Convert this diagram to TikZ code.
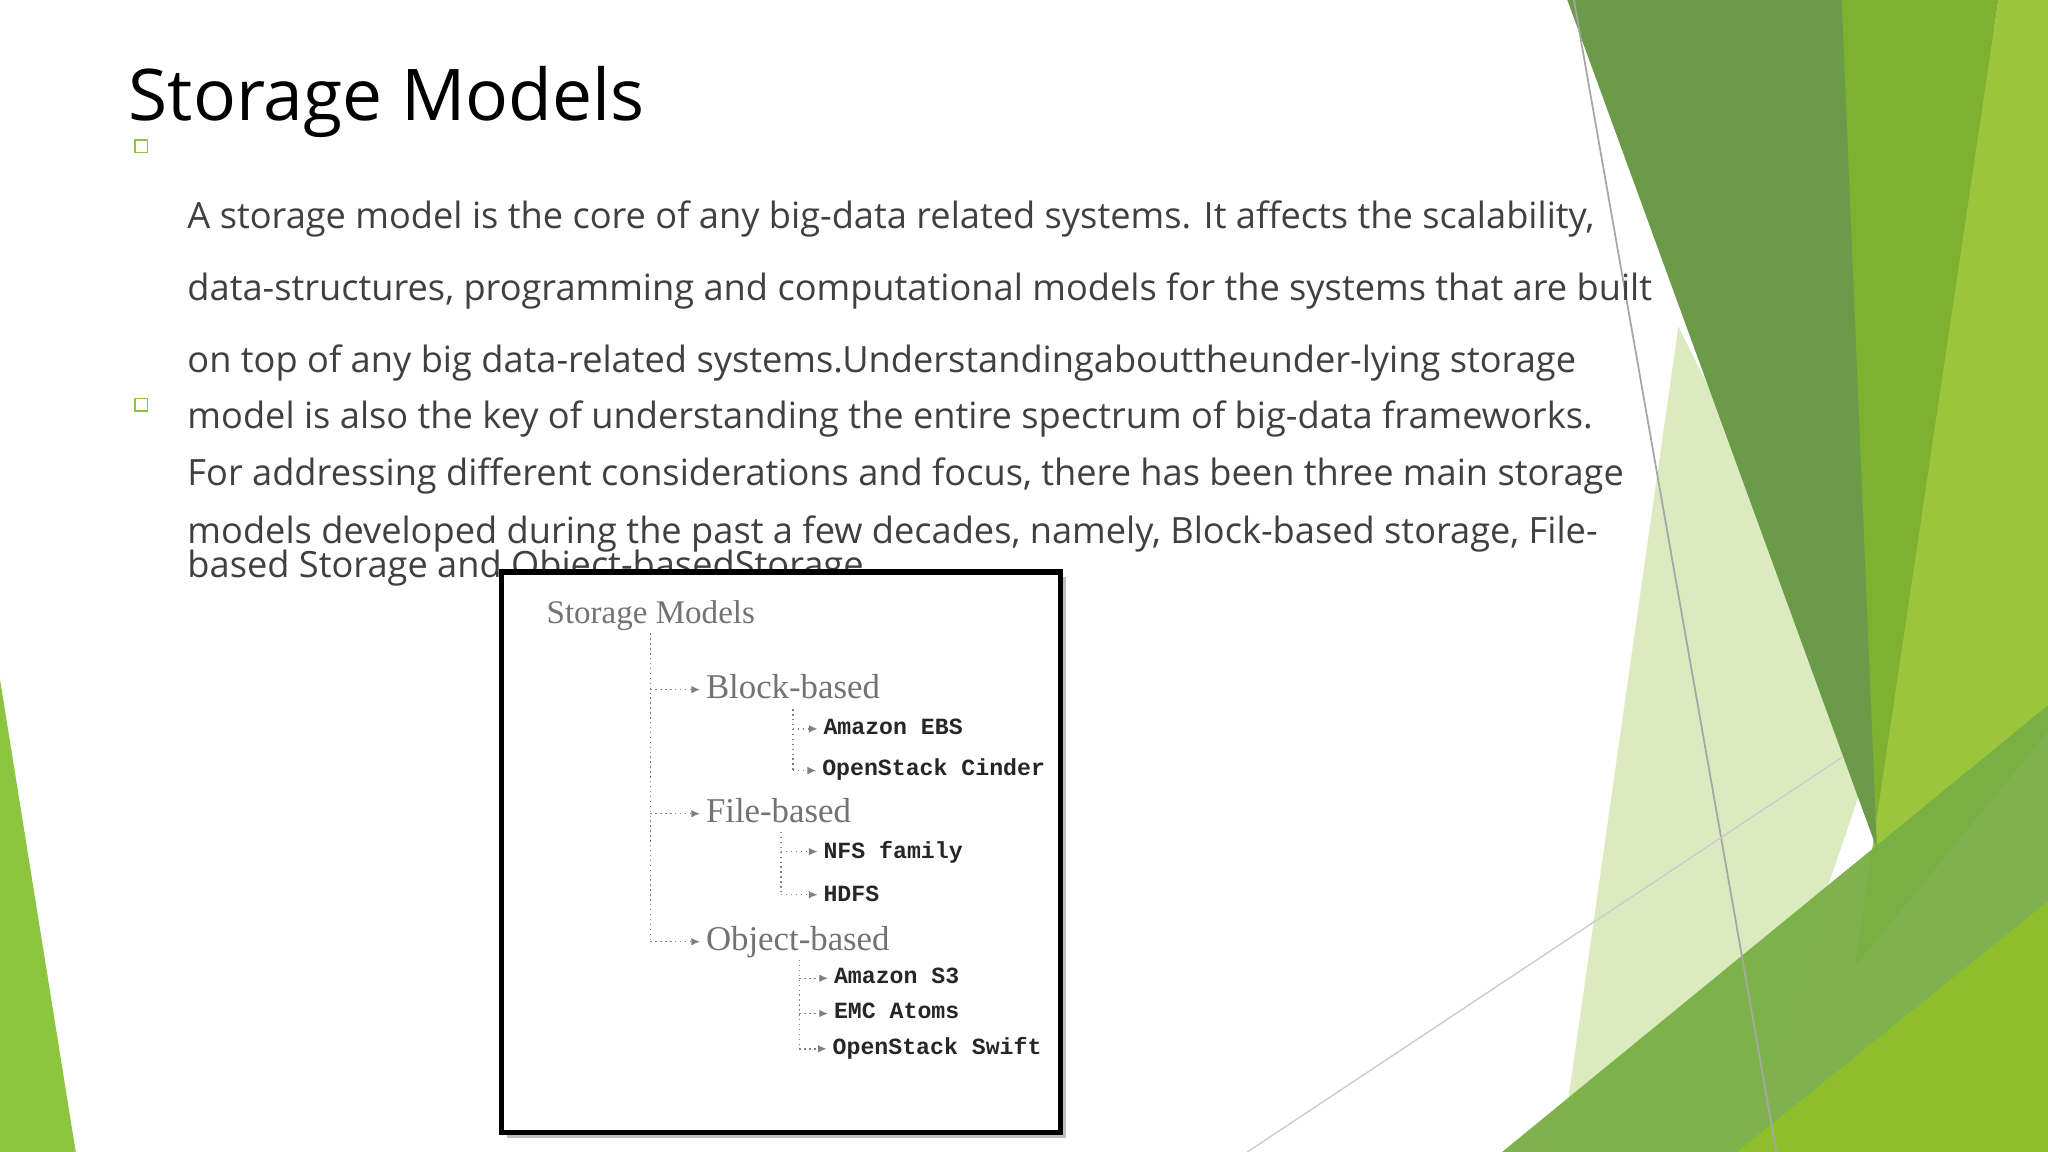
\documentclass[tikz,border=0pt]{standalone}
\usepackage{fontspec}
\setmainfont{Open Sans}
\newfontfamily\titlefont{Open Sans}
\newfontfamily\treeserif{Liberation Serif}
\newfontfamily\treemono{Liberation Mono}
\usetikzlibrary{arrows.meta}
\definecolor{gA}{HTML}{8CC63F}
\definecolor{gDark}{HTML}{6B9A48}
\definecolor{gMid}{HTML}{7FB030}
\definecolor{gBright}{HTML}{9BC53D}
\definecolor{gLow}{HTML}{78AE44}
\definecolor{gLow2}{HTML}{8FBE2C}
\definecolor{gPale}{HTML}{DCEAC0}
\definecolor{txt}{HTML}{404040}
\tikzset{
  body/.style={anchor=base west,inner sep=0,font=\fontsize{10.3pt}{12pt}\selectfont,text=txt},
  bul/.style={draw=gA,line width=0.5pt,minimum size=3.6pt,inner sep=0},
  cat/.style={anchor=base west,inner sep=0,font=\treeserif\fontsize{9.9pt}{11pt}\selectfont,text=black!55},
  leaf/.style={anchor=base west,inner sep=0,font=\treemono\bfseries\fontsize{6.6pt}{8pt}\selectfont,text=black!85},
  tline/.style={black!50,densely dotted,line width=0.4pt},
  tarr/.style={tline,shorten >=1.5pt,-{Latex[length=2.5pt,width=2.2pt]}}
}
\begin{document}
\begin{tikzpicture}[x=0.013061cm,y=-0.013061cm]
\useasboundingbox (0,0) rectangle (1568,882);
% decorations
\fill[gA] (0,520) -- (58,882) -- (0,882) -- cycle;
\fill[gPale] (1285,250) -- (1440,560) -- (1330,882) -- (1195,882) -- cycle;
\fill[gMid] (1405,0) -- (1530,0) -- (1437,650) -- cycle;
\fill[gBright] (1530,0) -- (1568,0) -- (1568,560) -- (1420,740) -- cycle;
\fill[gDark] (1200,0) -- (1410,0) -- (1437,650) -- cycle;
\fill[gLow,opacity=0.95] (1150,882) -- (1568,540) -- (1568,882) -- cycle;
\fill[gLow2] (1330,882) -- (1568,690) -- (1568,882) -- cycle;
\draw[black!35,line width=0.5pt] (1205,0) -- (1360,882);
\draw[black!20,line width=0.4pt] (955,882) -- (1410,580);
% title and text
\node[anchor=base west,inner sep=0,font=\titlefont\fontsize{20.3pt}{24pt}\selectfont,text=black] (title) at (98,92) {Storage Models};
\node[bul] (b1) at (108,112) {};
\node[bul] (b2) at (108,310) {};
\node[body] (l1) at (143,175) {A storage model is the core of any big-data related systems. It affects the scalability,};
\node[body] (l2) at (143,230) {data-structures, programming and computational models for the systems that are built};
\node[body] (l3) at (143,285) {on top of any big data-related systems.Understandingabouttheunder-lying storage};
\node[body] (l4) at (143,328) {model is also the key of understanding the entire spectrum of big-data frameworks.};
\node[body] (l5) at (143,372) {For addressing different considerations and focus, there has been three main storage};
\node[body] (l6) at (143,416) {models developed during the past a few decades, namely, Block-based storage, File-};
\node[body] (l7) at (143,442) {based Storage and Object-basedStorage.};
% box
\fill[black!25] (388,442) rectangle (816,871);
\draw[line width=1.5pt,fill=white] (384,438) rectangle (812,867);
\node[cat,font=\treeserif\fontsize{9.4pt}{11pt}\selectfont] (root) at (418,477) {Storage Models};
\node[cat] (blk) at (540,535) {Block-based};
\node[cat] (fil) at (540,630) {File-based};
\node[cat] (obj) at (540,728) {Object-based};
\node[leaf] (ebs) at (630,562) {Amazon EBS};
\node[leaf] (cin) at (629,594) {OpenStack Cinder};
\node[leaf] (nfs) at (630,657) {NFS family};
\node[leaf] (hdfs) at (630,690) {HDFS};
\node[leaf] (s3) at (638,753) {Amazon S3};
\node[leaf] (emc) at (638,780) {EMC Atoms};
\node[leaf] (swf) at (637,807) {OpenStack Swift};
% tree connectors
\coordinate (t0) at (498,485);
\coordinate (t1) at (498,528);
\coordinate (t2) at (498,623);
\coordinate (t3) at (498,721);
\draw[tline] (t0) -- (t3);
\draw[tarr] (t1) -- (blk.west |- t1);
\draw[tarr] (t2) -- (fil.west |- t2);
\draw[tarr] (t3) -- (obj.west |- t3);
\coordinate (a0) at (607,543);
\coordinate (a1) at (607,558);
\coordinate (a2) at (607,590);
\draw[tline] (a0) -- (a2);
\draw[tarr] (a1) -- (ebs.west |- a1);
\draw[tarr] (a2) -- (cin.west |- a2);
\coordinate (f0) at (598,637);
\coordinate (f1) at (598,652);
\coordinate (f2) at (598,685);
\draw[tline] (f0) -- (f2);
\draw[tarr] (f1) -- (nfs.west |- f1);
\draw[tarr] (f2) -- (hdfs.west |- f2);
\coordinate (o0) at (612,735);
\coordinate (o1) at (612,749);
\coordinate (o2) at (612,776);
\coordinate (o3) at (612,803);
\draw[tline] (o0) -- (o3);
\draw[tarr] (o1) -- (s3.west |- o1);
\draw[tarr] (o2) -- (emc.west |- o2);
\draw[tarr] (o3) -- (swf.west |- o3);
\end{tikzpicture}
\end{document}
